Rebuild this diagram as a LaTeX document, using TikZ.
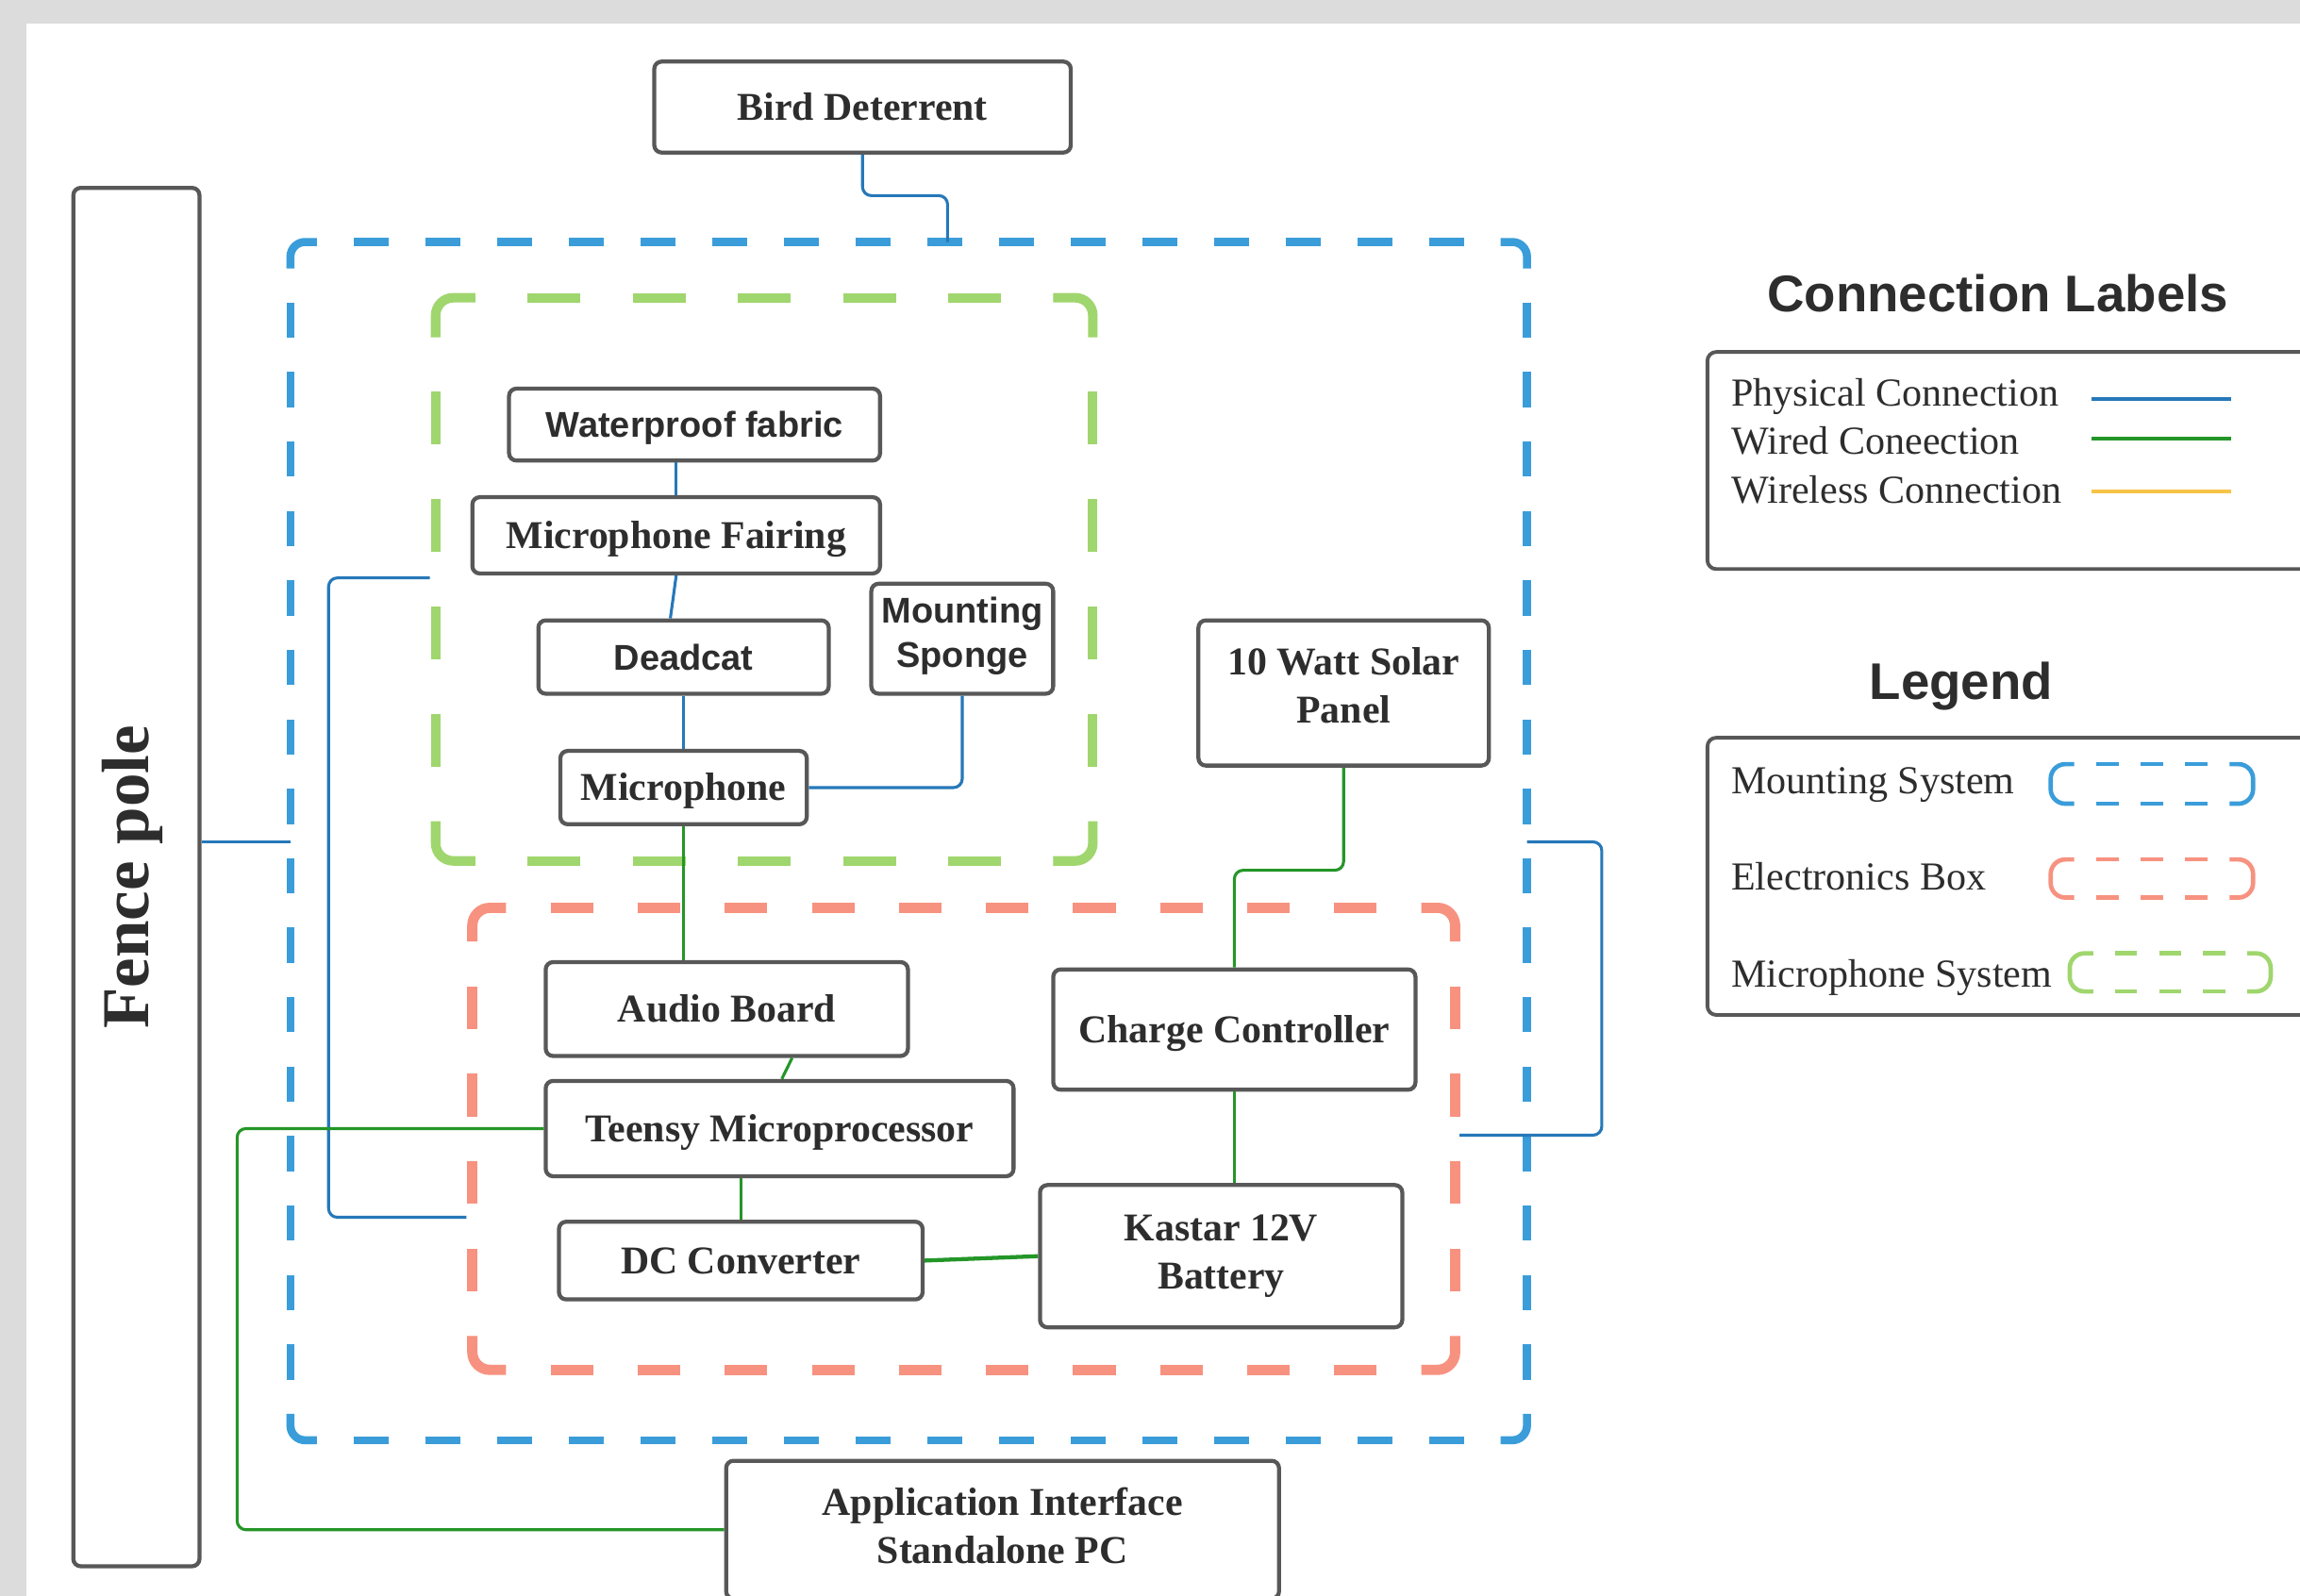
\documentclass[tikz,border=0pt]{standalone}
\usepackage{fontspec}
\setmainfont{Liberation Serif}
\setsansfont{Liberation Sans}
\usetikzlibrary{calc}
\definecolor{bggray}{RGB}{220,220,220}
\definecolor{boxline}{RGB}{88,88,88}
\definecolor{txt}{RGB}{45,45,45}
\definecolor{mountblue}{RGB}{58,157,218}
\definecolor{micgreen}{RGB}{160,214,110}
\definecolor{elecred}{RGB}{247,146,128}
\definecolor{physblue}{RGB}{38,120,185}
\definecolor{wiregreen}{RGB}{36,150,40}
\definecolor{wlyellow}{RGB}{247,196,72}
\newcommand\serifbox{\fontsize{15.3}{18.7}\selectfont\bfseries\rmfamily}
\newcommand\sansbox{\fontsize{13.9}{17}\selectfont\bfseries\sffamily}
\newcommand\dpt[1]{\rule[-#1]{0pt}{#1}}
% one dashed side: starts and ends with a gap
\newcommand\dside[6]{%
  \pgfmathsetmacro\sLen{veclen((#4)-(#2),(#5)-(#3))}%
  \pgfmathsetmacro\sN{max(1,round((\sLen-#6)/(2*#6)))}%
  \pgfmathsetlengthmacro\sGap{(\sLen-\sN*#6)/(\sN+1)*0.02cm}%
  \pgfmathsetlengthmacro\sDash{#6*0.02cm}%
  \draw[#1,dash pattern=on \sDash off \sGap,dash phase=\sDash] (#2,#3) -- (#4,#5);%
}
% dashed container with solid rounded corners
\newcommand\dbox[7]{%
  \draw[#1] (#2,#3+#6) -- (#2,#3) -- (#2+#6,#3);
  \draw[#1] (#4-#6,#3) -- (#4,#3) -- (#4,#3+#6);
  \draw[#1] (#4,#5-#6) -- (#4,#5) -- (#4-#6,#5);
  \draw[#1] (#2+#6,#5) -- (#2,#5) -- (#2,#5-#6);
  \dside{#1}{#2+#6}{#3}{#4-#6}{#3}{#7}
  \dside{#1}{#4}{#3+#6}{#4}{#5-#6}{#7}
  \dside{#1}{#2+#6}{#5}{#4-#6}{#5}{#7}
  \dside{#1}{#2}{#3+#6}{#2}{#5-#6}{#7}
}
% small legend swatch
\newcommand\legswatch[7]{%
  \draw[#1] (#2+#6,#3) -- (#2,#3) -- (#2,#5) -- (#2+#6,#5);
  \draw[#1] (#4-#6,#3) -- (#4,#3) -- (#4,#5) -- (#4-#6,#5);
  \dside{#1}{#2+#6}{#3}{#4-#6}{#3}{#7}
  \dside{#1}{#2+#6}{#5}{#4-#6}{#5}{#7}
}
\tikzset{
  box/.style={draw=boxline, line width=0.055cm, rounded corners=0.1cm, fill=white,
    text=txt, inner sep=0pt, align=center, font=\serifbox},
  sbox/.style={box, font=\sansbox},
  one/.style={text height=11pt, text depth=0.9pt},
  sone/.style={text height=11pt, text depth=1.05pt},
  phys/.style={draw=physblue, line width=0.04cm, rounded corners=0.12cm},
  wired/.style={draw=wiregreen, line width=0.04cm, rounded corners=0.12cm},
  mount/.style={draw=mountblue, line width=0.11cm, rounded corners=0.2cm},
  micsys/.style={draw=micgreen, line width=0.13cm, rounded corners=0.24cm},
  elec/.style={draw=elecred, line width=0.14cm, rounded corners=0.24cm},
  smount/.style={draw=mountblue, line width=0.06cm, rounded corners=0.2cm},
  smic/.style={draw=micgreen, line width=0.06cm, rounded corners=0.2cm},
  selec/.style={draw=elecred, line width=0.06cm, rounded corners=0.2cm},
  frame/.style={draw=boxline, line width=0.05cm, rounded corners=0.12cm},
  title/.style={text=txt, font=\fontsize{20}{24}\selectfont\bfseries\sffamily},
  legtext/.style={text=txt, anchor=west, inner sep=0pt, text height=10.5pt, text depth=0.3pt,
    font=\fontsize{15.4}{18}\selectfont\rmfamily},
  swline/.style={line width=0.05cm},
}
\begin{document}
\begin{tikzpicture}[x=0.02cm, y=-0.02cm]
\useasboundingbox (0,0) rectangle (1568,1088);
\clip (0,0) rectangle (1568,1088);
\fill[bggray] (0,0) rectangle (1568,1088);
\fill[white] (18,16) rectangle (1568,1088);

% containers
\dbox{mount}{198}{165}{1041}{982}{18}{24}
\dbox{micsys}{297}{203}{745}{587}{27}{36}
\dbox{elec}{322}{619}{992}{934}{23}{29}

% free connector ends on container edges
\coordinate (mtop) at (646,165);
\coordinate (mleft) at (198,574);
\coordinate (mright) at (1041,574);
\coordinate (micleft) at (293,394);
\coordinate (elecleft) at (318,830);
\coordinate (elecright) at (995,774);

% nodes
\node[box, minimum width=1.72cm, minimum height=18.8cm] (fence) at (93,598) {};
\node[rotate=90, text=txt, font=\fontsize{26}{30}\selectfont\bfseries\rmfamily] (fencelbl) at (90,598) {Fence pole};
\node[box, one, minimum width=5.68cm, minimum height=1.24cm] (bird) at (588,73) {Bird Deterrent};
\node[sbox, sone, minimum width=5.06cm, minimum height=0.98cm] (wp) at (473.5,289.5) {Waterproof fabric};
\node[box, one, minimum width=5.56cm, minimum height=1.04cm] (fair) at (461,365) {Microphone Fairing};
\node[sbox, sone, minimum width=3.96cm, minimum height=1.00cm] (dead) at (466,448) {Deadcat};
\node[sbox, minimum width=2.48cm, minimum height=1.50cm] (sponge) at (656,435.5) {Mounting\\Sponge\dpt{5.2pt}};
\node[box, one, minimum width=3.36cm, minimum height=1.00cm] (mic) at (466,537) {Microphone};
\node[box, minimum width=3.96cm, minimum height=1.98cm] (solar) at (916,472.5) {10 Watt Solar\\Panel\dpt{5.7pt}};
\node[box, one, minimum width=4.94cm, minimum height=1.64cm] (cc) at (841.5,702) {Charge Controller};
\node[box, minimum width=4.94cm, minimum height=1.94cm] (bat) at (832.5,856.5) {Kastar 12V\\Battery};
\node[box, one, minimum width=4.94cm, minimum height=1.28cm] (audio) at (495.5,688) {Audio Board};
\node[box, one, minimum width=6.38cm, minimum height=1.30cm] (teensy) at (531.5,769.5) {Teensy Microprocessor};
\node[box, one, minimum width=4.96cm, minimum height=1.06cm] (dc) at (505,859.5) {DC Converter};
\node[box, minimum width=7.54cm, minimum height=1.88cm] (app) at (683.5,1043) {Application Interface\\Standalone PC\dpt{3.4pt}};

% physical connections
\draw[phys] (bird.south) -- ++(0,28) -| (mtop);
\draw[phys] (fair.north) -- (fair.north |- wp.south);
\draw[phys] (fair.south) -- ($(dead.north)+(-9,0)$);
\draw[phys] (dead.south) -- (mic.north);
\draw[phys] (mic.east) -| (sponge.south);
\draw[phys] (micleft) -- ++(-69,0) |- (elecleft);
\draw[phys] (mleft) -- (mleft -| fence.east);
\draw[phys] (mright) -- ++(51,0) |- (elecright);

% wired connections
\draw[wired] (mic.south) -- (mic.south |- audio.north);
\draw[wired] (solar.south) -- ++(0,70) -| (cc.north);
\draw[wired] (cc.south) -- (cc.south |- bat.north);
\draw[wired] ($(audio.south)+(44.5,0)$) -- ($(teensy.north)+(1.5,0)$);
\draw[wired] (dc.north) -- (dc.north |- teensy.south);
\draw[wired, line width=0.055cm] (dc.east) -- (bat.west);
\draw[wired] (teensy.west) -- ++(-209,0) |- (app.west);

% connection labels
\node[title] (cltitle) at (1362,200) {Connection Labels};
\draw[frame] (1164,240) rectangle (1620,388);
\node[legtext] (lphys) at (1180,268) {Physical Connection};
\node[legtext] (lwired) at (1180,301) {Wired Coneection};
\node[legtext] (lwl) at (1180,334) {Wireless Connection};
\draw[swline, physblue] (1426,272) -- (1521,272);
\draw[swline, wiregreen] (1426,299) -- (1521,299);
\draw[swline, wlyellow] (1426,335) -- (1521,335);

% legend
\node[title] (legtitle) at (1337,468) {Legend};
\draw[frame] (1164,503) rectangle (1620,692);
\node[legtext] (lmount) at (1180,532) {Mounting System};
\node[legtext] (lelec) at (1180,598) {Electronics Box};
\node[legtext] (lmic) at (1180,664) {Microphone System};
\legswatch{smount}{1398}{521}{1536}{548}{16}{15}
\legswatch{selec}{1398}{586}{1536}{612}{16}{15}
\legswatch{smic}{1411}{650}{1548}{676}{16}{15}
\end{tikzpicture}
\end{document}
